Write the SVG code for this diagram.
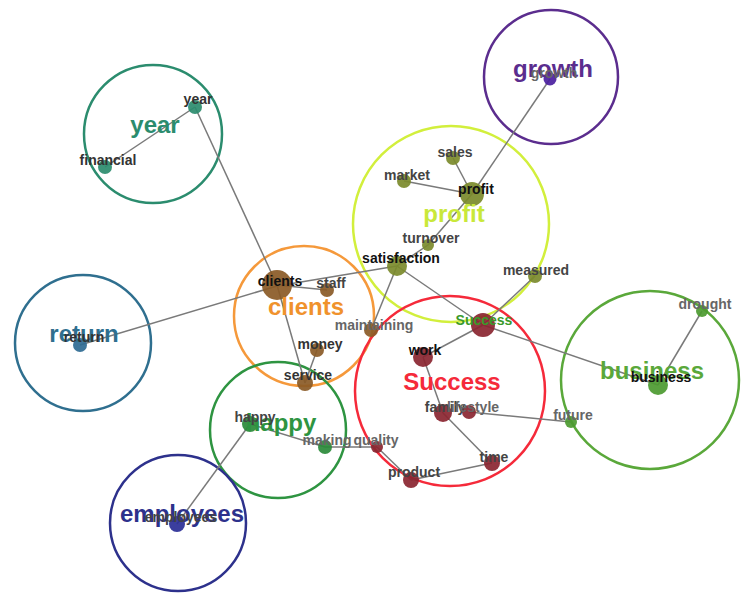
<svg xmlns="http://www.w3.org/2000/svg" width="754" height="608" viewBox="0 0 754 608">
<style>
.ring{fill:none;stroke-width:2.5}
.edge{stroke:#7a7a7a;stroke-width:1.5;fill:none}
.big{font-family:"Liberation Sans",Arial,sans-serif;font-size:24px;font-weight:bold;text-anchor:middle}
.lbl{font-family:"Liberation Sans",Arial,sans-serif;font-size:14px;font-weight:bold;text-anchor:middle;fill:#333}
.dk{fill:#111}
.md{fill:#444}
.lt{fill:#666}
.node{opacity:0.92}
</style>
<rect width="754" height="608" fill="#ffffff"/>
<g id="clusters">
<circle class="ring" cx="153" cy="134" r="69" stroke="#2b8c6e"/>
<circle class="ring" cx="551" cy="77" r="67" stroke="#5b2d8e"/>
<circle class="ring" cx="451" cy="224" r="98" stroke="#d2ef3c"/>
<circle class="ring" cx="304" cy="316" r="70" stroke="#f5993b"/>
<circle class="ring" cx="83" cy="343" r="68" stroke="#2f6f8f"/>
<circle class="ring" cx="278" cy="430" r="68" stroke="#2e9441"/>
<circle class="ring" cx="178" cy="523" r="68" stroke="#2d318c"/>
<circle class="ring" cx="450" cy="391" r="95" stroke="#f52a3a"/>
<circle class="ring" cx="650" cy="380" r="89" stroke="#5aa83a"/>
</g>
<g id="connectors">
<line class="edge" x1="195" y1="107" x2="105" y2="167"/>
<line class="edge" x1="195" y1="107" x2="277" y2="285"/>
<line class="edge" x1="80" y1="345" x2="277" y2="286"/>
<line class="edge" x1="277" y1="286" x2="397" y2="266"/>
<line class="edge" x1="277" y1="285" x2="327" y2="290"/>
<line class="edge" x1="277" y1="285" x2="305" y2="383"/>
<line class="edge" x1="317" y1="350" x2="305" y2="383"/>
<line class="edge" x1="371" y1="330" x2="397" y2="266"/>
<line class="edge" x1="397" y1="266" x2="428" y2="245"/>
<line class="edge" x1="428" y1="245" x2="472" y2="194"/>
<line class="edge" x1="472" y1="194" x2="550" y2="79"/>
<line class="edge" x1="472" y1="194" x2="453" y2="158"/>
<line class="edge" x1="472" y1="194" x2="404" y2="181"/>
<line class="edge" x1="397" y1="266" x2="483" y2="325"/>
<line class="edge" x1="483" y1="325" x2="535" y2="276"/>
<line class="edge" x1="483" y1="325" x2="423" y2="357"/>
<line class="edge" x1="483" y1="325" x2="658" y2="385"/>
<line class="edge" x1="658" y1="385" x2="702" y2="311"/>
<line class="edge" x1="423" y1="357" x2="443" y2="413"/>
<line class="edge" x1="443" y1="413" x2="492" y2="463"/>
<line class="edge" x1="469" y1="412" x2="571" y2="422"/>
<line class="edge" x1="492" y1="463" x2="411" y2="480"/>
<line class="edge" x1="411" y1="480" x2="377" y2="447"/>
<line class="edge" x1="377" y1="447" x2="325" y2="447"/>
<line class="edge" x1="325" y1="447" x2="250" y2="424"/>
<line class="edge" x1="250" y1="424" x2="177" y2="524"/>
</g>
<g id="node-year"><circle class="node" cx="195" cy="107" r="7" fill="#2b8c6e"/></g>
<g id="node-financial"><circle class="node" cx="105" cy="167" r="7" fill="#2b8c6e"/></g>
<g id="node-growth"><circle class="node" cx="550" cy="79" r="6.5" fill="#4b1fa0"/></g>
<g id="node-profit"><circle class="node" cx="472" cy="194" r="12" fill="#7b8a2b"/></g>
<g id="node-sales"><circle class="node" cx="453" cy="158" r="7" fill="#7b8a2b"/></g>
<g id="node-market"><circle class="node" cx="404" cy="181" r="7" fill="#7b8a2b"/></g>
<g id="node-turnover"><circle class="node" cx="428" cy="245" r="6" fill="#7b8a2b"/></g>
<g id="node-satisfaction"><circle class="node" cx="397" cy="266" r="10" fill="#7b8a2b"/></g>
<g id="node-measured"><circle class="node" cx="535" cy="276" r="7" fill="#7b8a2b"/></g>
<g id="node-clients"><circle class="node" cx="277" cy="285" r="15" fill="#8a5a26"/></g>
<g id="node-staff"><circle class="node" cx="327" cy="290" r="7" fill="#8a5a26"/></g>
<g id="node-money"><circle class="node" cx="317" cy="350" r="7" fill="#8a5a26"/></g>
<g id="node-service"><circle class="node" cx="305" cy="383" r="8" fill="#8a5a26"/></g>
<g id="node-maintaining"><circle class="node" cx="371" cy="330" r="7" fill="#8a5a26"/></g>
<g id="node-return"><circle class="node" cx="80" cy="345" r="7" fill="#2e6a93"/></g>
<g id="node-happy"><circle class="node" cx="250" cy="424" r="8" fill="#2a8a3a"/></g>
<g id="node-making"><circle class="node" cx="325" cy="447" r="7" fill="#2a8a3a"/></g>
<g id="node-employees"><circle class="node" cx="177" cy="524" r="8" fill="#2a2e96"/></g>
<g id="node-Success"><circle class="node" cx="483" cy="325" r="12" fill="#8a2530"/></g>
<g id="node-work"><circle class="node" cx="423" cy="357" r="10" fill="#8a2530"/></g>
<g id="node-family"><circle class="node" cx="443" cy="413" r="9" fill="#8a2530"/></g>
<g id="node-lifestyle"><circle class="node" cx="469" cy="412" r="7" fill="#8a2530"/></g>
<g id="node-time"><circle class="node" cx="492" cy="463" r="8" fill="#8a2530"/></g>
<g id="node-product"><circle class="node" cx="411" cy="480" r="8" fill="#8a2530"/></g>
<g id="node-quality"><circle class="node" cx="377" cy="447" r="6" fill="#8a2530"/></g>
<g id="node-business"><circle class="node" cx="658" cy="385" r="10" fill="#4c9a30"/></g>
<g id="node-drought"><circle class="node" cx="702" cy="311" r="6" fill="#4c9a30"/></g>
<g id="node-future"><circle class="node" cx="571" cy="422" r="6" fill="#4c9a30"/></g>
<g id="cluster-labels">
<text class="big" x="155" y="133" fill="#2b8c6e">year</text>
<text class="big" x="553" y="77" fill="#5b2d8e">growth</text>
<text class="big" x="454" y="222" fill="#c9e83a">profit</text>
<text class="big" x="306" y="315" fill="#f0922c">clients</text>
<text class="big" x="84" y="342" fill="#2f6f8f">return</text>
<text class="big" x="281" y="431" fill="#2e9441">happy</text>
<text class="big" x="182" y="522" fill="#2d318c">employees</text>
<text class="big" x="452" y="390" fill="#f52a3a">Success</text>
<text class="big" x="652" y="379" fill="#5aa83a">business</text>
</g>
<g id="node-labels">
<text class="lbl" x="198" y="104">year</text>
<text class="lbl" x="108" y="165">financial</text>
<text class="lbl lt" x="554" y="78">growth</text>
<text class="lbl dk" x="476" y="194">profit</text>
<text class="lbl md" x="455" y="157">sales</text>
<text class="lbl md" x="407" y="180">market</text>
<text class="lbl md" x="431" y="243">turnover</text>
<text class="lbl dk" x="401" y="263">satisfaction</text>
<text class="lbl md" x="536" y="275">measured</text>
<text class="lbl dk" x="280" y="286">clients</text>
<text class="lbl md" x="331" y="288">staff</text>
<text class="lbl" x="320" y="349">money</text>
<text class="lbl" x="308" y="380">service</text>
<text class="lbl lt" x="374" y="330">maintaining</text>
<text class="lbl" x="84" y="342">return</text>
<text class="lbl md" x="255" y="422">happy</text>
<text class="lbl lt" x="327" y="445">making</text>
<text class="lbl lt" x="376" y="445">quality</text>
<text class="lbl md" x="181" y="522">employees</text>
<text class="lbl" x="484" y="325" style="fill:#3a9a2a">Success</text>
<text class="lbl dk" x="425" y="355">work</text>
<text class="lbl md" x="445" y="412">family</text>
<text class="lbl lt" x="473" y="412">lifestyle</text>
<text class="lbl md" x="494" y="462">time</text>
<text class="lbl md" x="414" y="477">product</text>
<text class="lbl dk" x="661" y="382">business</text>
<text class="lbl lt" x="705" y="309">drought</text>
<text class="lbl lt" x="573" y="420">future</text>
</g>
</svg>
